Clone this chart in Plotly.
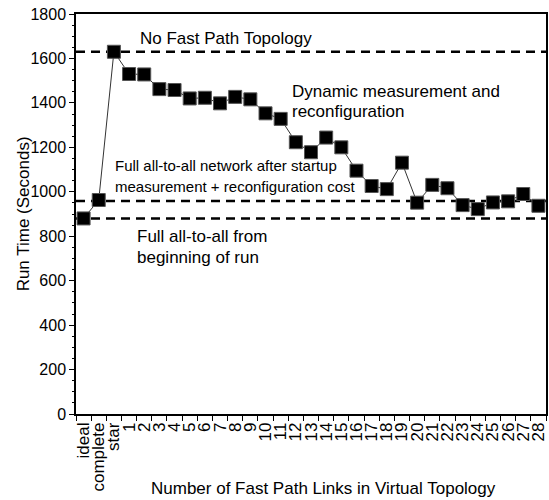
import plotly.graph_objects as go

# Run times for each virtual topology configuration
categories = ["ideal", "complete", "star"] + [str(i) for i in range(1, 29)]
run_time = [880, 963, 1630, 1530, 1528, 1462, 1458, 1420, 1423, 1398, 1427, 1416,
            1353, 1328, 1223, 1178, 1244, 1200, 1095, 1026, 1012, 1131, 951, 1031,
            1016, 940, 922, 952, 957, 990, 937]
y_ticks = list(range(0, 1801, 200))

# Reference levels (seconds)
no_fast_path = 1630
all_to_all_after_startup = 958
all_to_all_from_start = 880

FONT = "Liberation Sans, Arial, sans-serif"

fig = go.Figure()
fig.add_trace(go.Scatter(
    x=categories, y=run_time, mode="lines+markers",
    line=dict(color="#333333", width=1),
    marker=dict(symbol="square", size=13, color="black",
                line=dict(color="#555555", width=1)),
    showlegend=False,
))

for level in (no_fast_path, all_to_all_after_startup, all_to_all_from_start):
    fig.add_shape(type="line", xref="paper", x0=0, x1=1, yref="y", y0=level, y1=level,
                  line=dict(color="black", width=2.5, dash="9px,6px"), layer="below")

def label(text, x, y, size):
    fig.add_annotation(text=text, xref="paper", x=x, yref="y", y=y,
                       xanchor="left", yanchor="middle", showarrow=False,
                       font=dict(family=FONT, size=size, color="black"))

label("No Fast Path Topology", 0.131, 1692, 17)
label("Dynamic measurement and", 0.455, 1451, 17)
label("reconfiguration", 0.455, 1361, 17)
label("Full all-to-all network after startup", 0.078, 1117, 15)
label("measurement + reconfiguration cost", 0.078, 1026, 15)
label("Full all-to-all from", 0.125, 798, 17)
label("beginning of run", 0.125, 705, 17)

fig.add_annotation(text="Number of Fast Path Links in Virtual Topology", xref="paper", x=0.5275,
                   yref="paper", y=-0.185, xanchor="center", yanchor="middle", showarrow=False,
                   font=dict(family=FONT, size=17, color="black"))
fig.add_annotation(text="Run Time (Seconds)", xref="paper", x=-0.112, yref="paper", y=0.5,
                   xanchor="center", yanchor="middle", textangle=-90, showarrow=False,
                   font=dict(family=FONT, size=17, color="black"))

fig.update_xaxes(type="category", categoryorder="array", categoryarray=categories,
                 tickmode="array", tickvals=categories, ticktext=categories,
                 range=[-0.5, 30.5], tickson="boundaries", ticks="outside", ticklen=5,
                 tickcolor="black", tickangle=-90, showline=True, linecolor="black",
                 linewidth=1.5, mirror=True, showgrid=False, zeroline=False,
                 tickfont=dict(family=FONT, size=17, color="black"))
fig.update_yaxes(range=[0, 1800], tickmode="array", tickvals=y_ticks,
                 ticks="outside", ticklen=5, tickcolor="black",
                 minor=dict(dtick=50, ticks="outside", ticklen=2, tickcolor="black"),
                 showline=True, linecolor="black", linewidth=1.5, mirror=True,
                 showgrid=False, zeroline=False,
                 tickfont=dict(family=FONT, size=16, color="black"))

fig.update_layout(width=549, height=500, margin=dict(l=76, r=1, t=14, b=86),
                  plot_bgcolor="white", paper_bgcolor="white")

fig.write_html("out.html")
